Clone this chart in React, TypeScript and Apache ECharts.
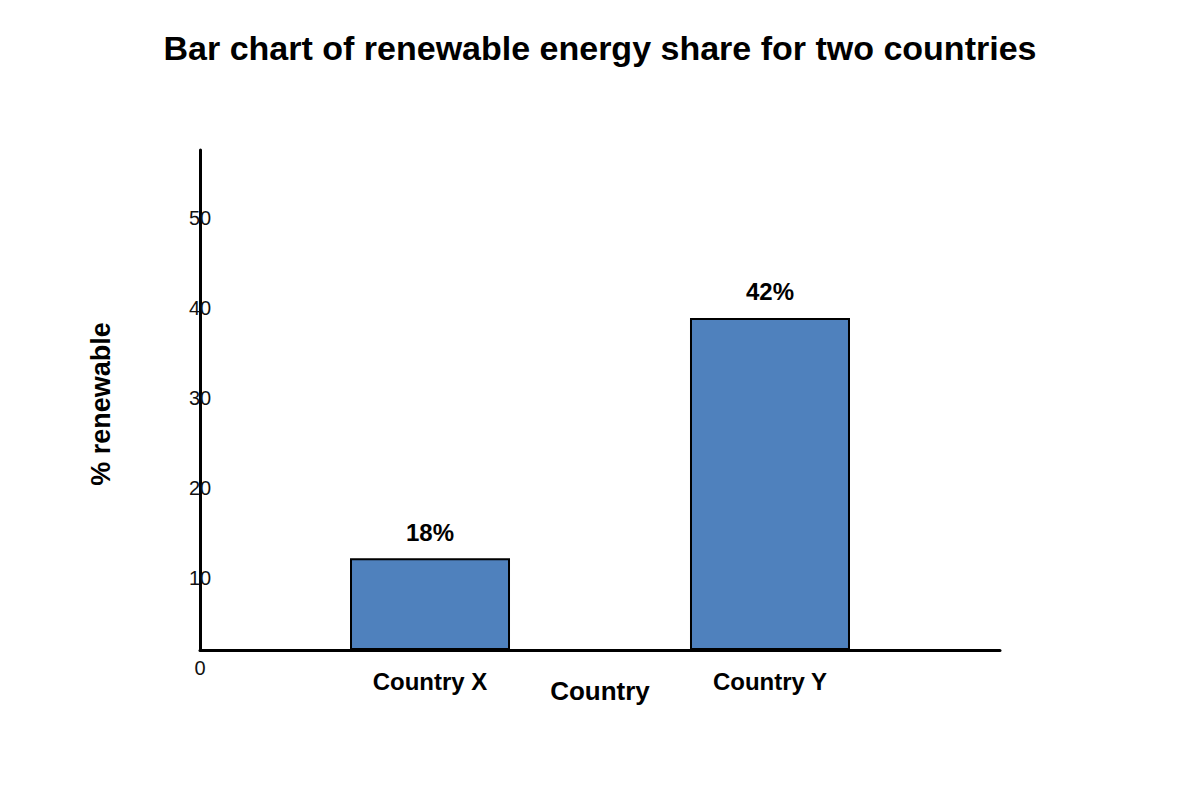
import React, { useEffect, useRef } from "react";
import * as echarts from "echarts";

// chart data
const countries = ["Country X", "Country Y"];
const countryPositions = [1, 2];
const barHeights = [10.2, 36.9];
const shareLabels = ["18%", "42%"];
const yTicks = [0, 10, 20, 30, 40, 50];

const FONT = "'Liberation Sans', Arial, sans-serif";

const App: React.FC = () => {
  const chartRef = useRef<HTMLDivElement>(null);

  useEffect(() => {
    document.body.style.margin = "0";
    if (!chartRef.current) return;

    const chart = echarts.init(chartRef.current, undefined, { renderer: "svg" });

    const option = {
      animation: false,
      backgroundColor: "#ffffff",
      title: {
        text: "Bar chart of renewable energy share for two countries",
        left: "center",
        top: 26,
        textStyle: {
          fontFamily: FONT,
          fontSize: 34,
          fontWeight: "bold",
          color: "#000",
        },
      },
      grid: {
        left: 200,
        top: 150,
        width: 800,
        height: 500,
        containLabel: false,
      },
      xAxis: {
        type: "value",
        min: 0.3235,
        max: 2.6765,
        name: "Country",
        nameLocation: "middle",
        nameGap: 28,
        nameMoveOverlap: false,
        nameTextStyle: {
          fontFamily: FONT,
          fontSize: 26,
          fontWeight: "bold",
          color: "#000",
        },
        axisLine: { show: true, onZero: false, lineStyle: { color: "#000", width: 3 } },
        axisTick: { show: false },
        splitLine: { show: false },
        axisLabel: {
          customValues: countryPositions,
          margin: 19,
          fontFamily: FONT,
          fontSize: 24,
          fontWeight: "bold",
          color: "#000",
          formatter: (v: number) => {
            const i = countryPositions.indexOf(v);
            return i >= 0 ? countries[i] : "";
          },
        },
      },
      yAxis: {
        type: "value",
        min: 0,
        max: 55.56,
        name: "% renewable",
        nameLocation: "middle",
        nameGap: 86,
        nameMoveOverlap: false,
        nameTextStyle: {
          fontFamily: FONT,
          fontSize: 27,
          fontWeight: "bold",
          color: "#000",
          padding: [0, 8, 0, 0],
        },
        axisLine: { show: true, onZero: false, lineStyle: { color: "#000", width: 3 } },
        axisTick: { show: false },
        splitLine: { show: false },
        axisLabel: {
          customValues: yTicks,
          margin: 0,
          align: "center",
          verticalAlign: "top",
          padding: [8, 0, 0, 0],
          fontFamily: FONT,
          fontSize: 20,
          color: "#111",
        },
      },
      series: [
        {
          type: "bar",
          barWidth: 160,
          data: countryPositions.map((x, i) => [x, barHeights[i]]),
          itemStyle: {
            color: "#4f81bd",
            borderColor: "#000",
            borderWidth: 2,
          },
          label: {
            show: true,
            position: "top",
            distance: 14,
            fontFamily: FONT,
            fontSize: 24,
            fontWeight: "bold",
            color: "#000",
            formatter: (p: { dataIndex: number }) => shareLabels[p.dataIndex],
          },
        },
      ],
    };

    chart.setOption(option);

    return () => {
      chart.dispose();
    };
  }, []);

  return <div ref={chartRef} style={{ width: "1200px", height: "800px" }} />;
};

export default App;
